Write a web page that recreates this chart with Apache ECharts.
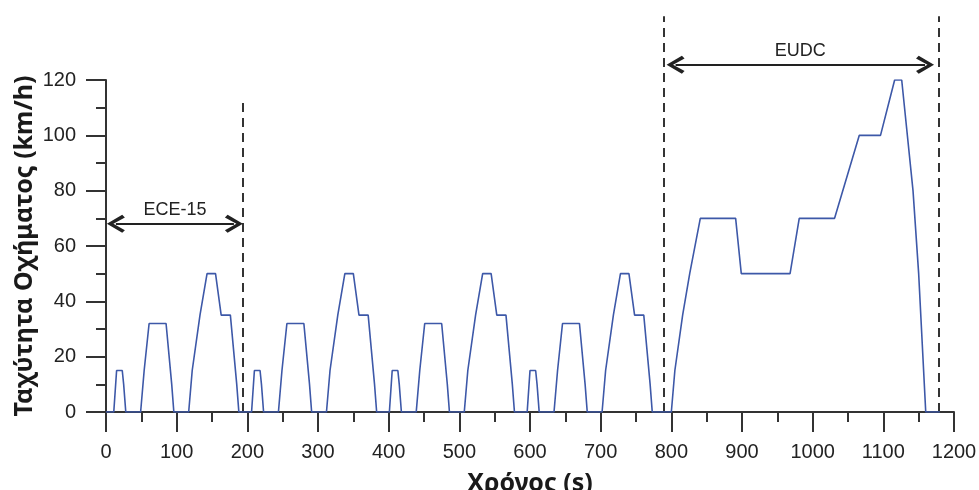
<!DOCTYPE html>
<html>
<head>
<meta charset="utf-8">
<script src="https://cdn.jsdelivr.net/npm/echarts@6/dist/echarts.min.js"></script>
<style>
  html, body { margin: 0; padding: 0; background: #fff; }
  #main { width: 979px; height: 490px; }
</style>
</head>
<body>
<div id="main"></div>
<script>
// NEDC speed trace (s, km/h)
const timeSec = [
  0, 11, 15, 23, 25, 28, 49, 54, 56, 61, 85, 93, 96, 117, 122, 124, 133, 135, 143, 155, 163, 176, 185, 188,
  195, 206, 210, 218, 220, 223, 244, 249, 251, 256, 280, 288, 291, 312, 317, 319, 328, 330, 338, 350, 358, 371, 380, 383,
  390, 401, 405, 413, 415, 418, 439, 444, 446, 451, 475, 483, 486, 507, 512, 514, 523, 525, 533, 545, 553, 566, 575, 578,
  585, 596, 600, 608, 610, 613, 634, 639, 641, 646, 670, 678, 681, 702, 707, 709, 718, 720, 728, 740, 748, 761, 770, 773,
  780, 800, 805, 807, 816, 818, 826, 828, 841, 891, 899, 968, 981, 1031, 1066, 1096, 1116, 1126, 1142, 1150, 1160, 1180
];
const speedKmh = [
  0, 0, 15, 15, 10, 0, 0, 15, 15, 32, 32, 10, 0, 0, 15, 15, 35, 35, 50, 50, 35, 35, 10, 0,
  0, 0, 15, 15, 10, 0, 0, 15, 15, 32, 32, 10, 0, 0, 15, 15, 35, 35, 50, 50, 35, 35, 10, 0,
  0, 0, 15, 15, 10, 0, 0, 15, 15, 32, 32, 10, 0, 0, 15, 15, 35, 35, 50, 50, 35, 35, 10, 0,
  0, 0, 15, 15, 10, 0, 0, 15, 15, 32, 32, 10, 0, 0, 15, 15, 35, 35, 50, 50, 35, 35, 10, 0,
  0, 0, 15, 15, 35, 35, 50, 50, 70, 70, 50, 50, 70, 70, 100, 100, 120, 120, 80, 50, 0, 0
];

// dashed phase boundaries
const dividerTime = [193, 789, 1179];
const dividerTop = [113, 143, 143];

// double arrows with their names (ends set at the arrowhead centres)
const spanNames = ['ECE-15', 'EUDC'];
const spanStart = [14, 806];
const spanEnd = [181, 1159];
const spanLevel = [68, 125.5];

const xName = 'Χρόνος (s)';
const yName = 'Ταχύτητα Οχήματος (km/h)';

const arrowHead = 'path://M6,0 L12,8 L10.2,9.4 L6,3.4 L1.8,9.4 L0,8 Z';
const axisColor = '#333';

const chart = echarts.init(document.getElementById('main'));

const axisCommon = {
  axisLine: { show: true, onZero: false, lineStyle: { color: axisColor, width: 2 } },
  axisTick: { show: true, inside: false, length: 20, lineStyle: { color: axisColor, width: 2 } },
  minorTick: { show: true, splitNumber: 2, length: 10, lineStyle: { color: axisColor, width: 2 } },
  splitLine: { show: false },
  minorSplitLine: { show: false },
  nameMoveOverlap: false,
  nameTextStyle: { fontFamily: 'Noto Sans', fontWeight: 'bold', fontSize: 25, color: '#1a1a1a' }
};
const labelStyle = { margin: 30, fontSize: 20, color: '#222', fontFamily: 'Liberation Sans', formatter: v => String(v) };

chart.setOption({
  animation: false,
  backgroundColor: '#fff',
  grid: { left: 106, right: 25, top: 80, bottom: 78, outerBoundsMode: 'none', containLabel: false },
  xAxis: Object.assign({}, axisCommon, {
    type: 'value', min: 0, max: 1200, interval: 100,
    name: xName, nameLocation: 'middle', nameGap: 59,
    axisLabel: labelStyle
  }),
  yAxis: Object.assign({}, axisCommon, {
    type: 'value', min: 0, max: 120, interval: 20,
    name: yName, nameLocation: 'middle', nameGap: 69, nameRotate: 90,
    axisLabel: labelStyle
  }),
  series: [
    {
      type: 'line',
      data: timeSec.map((t, i) => [t, speedKmh[i]]),
      showSymbol: false,
      lineStyle: { color: '#3d58a8', width: 1.6 },
      z: 3
    },
    {
      type: 'lines',
      coordinateSystem: 'cartesian2d',
      clip: false,
      symbol: 'none',
      lineStyle: { color: axisColor, width: 2, type: [9, 6], opacity: 1 },
      data: dividerTime.map((t, i) => ({ coords: [[t, 0], [t, dividerTop[i]]] })),
      z: 2
    },
    {
      type: 'lines',
      coordinateSystem: 'cartesian2d',
      clip: false,
      symbol: [arrowHead, arrowHead],
      symbolSize: 18,
      lineStyle: { color: '#222', width: 2, opacity: 1 },
      label: {
        show: true, position: 'middle', distance: 5,
        fontFamily: 'Liberation Sans', fontSize: 18, color: '#222',
        formatter: p => p.name
      },
      data: spanNames.map((n, i) => ({
        name: n,
        coords: [[spanStart[i], spanLevel[i]], [spanEnd[i], spanLevel[i]]]
      })),
      z: 4
    }
  ]
});
</script>
</body>
</html>
